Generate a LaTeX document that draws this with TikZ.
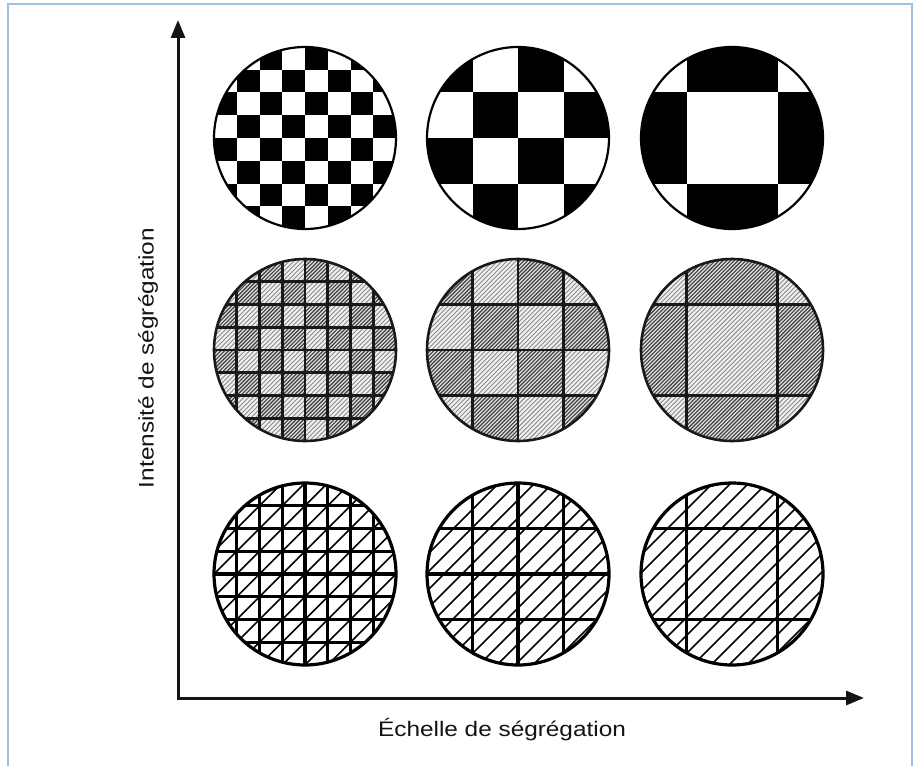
\documentclass[tikz,border=0pt]{standalone}
\usepackage{fontspec}
\setmainfont{Liberation Sans}
\usepackage{graphicx}
\usetikzlibrary{arrows.meta}
\definecolor{frameblue}{RGB}{160,190,228}
\definecolor{inkc}{RGB}{20,20,20}

\def\Rad{91}
\def\GridE{0/-1/-0.75,1/-0.75/-0.5,2/-0.5/-0.25,3/-0.25/0,4/0/0.25,5/0.25/0.5,6/0.5/0.75,7/0.75/1}
\def\GridF{0/-1/-0.5,1/-0.5/0,2/0/0.5,3/0.5/1}
\def\GridT{0/-1/-0.5,1/-0.5/0.5,2/0.5/1}
\def\LinesE{-0.75,-0.5,-0.25,0,0.25,0.5,0.75}
\def\LinesF{-0.5,0,0.5}
\def\LinesT{-0.5,0.5}

% hatch lines x+y=k across rectangle [#1,#3]x[#2,#4], step #5, style #6
\newcommand\hatchrect[6]{%
  \pgfmathsetmacro\hKa{(#1)+(#2)}%
  \pgfmathtruncatemacro\hN{((#3)+(#4)-(#1)-(#2))/(#5)+1}%
  \foreach \n in {0,...,\hN}{%
    \pgfmathsetmacro\hK{\hKa+\n*(#5)}%
    \draw[#6] ({\hK-(#4)},{#4}) -- ({\hK-(#2)},{#2});%
  }%
}

% top row: black and white
\newcommand\topcircle[4]{%
  \begin{scope}
    \clip (#1,#2) circle (\Rad pt);
    \foreach \i/\ia/\ib in #3 {
      \foreach \j/\ja/\jb in #3 {
        \pgfmathtruncatemacro\cellpar{mod(\i+\j+#4,2)}
        \ifnum\cellpar=0
          \fill[black] ({#1+(\ia)*\Rad},{#2+(\ja)*\Rad}) rectangle ({#1+(\ib)*\Rad},{#2+(\jb)*\Rad});
        \fi
      }}
  \end{scope}
  \draw[line width=2.2] (#1,#2) circle (\Rad pt);
}

% middle row: two hatch tones
\newcommand\midcircle[5]{%
  \begin{scope}
    \clip (#1,#2) circle (\Rad pt);
    \fill[black!6] (#1,#2) circle (\Rad pt);
    \hatchrect{#1-\Rad}{#2-\Rad}{#1+\Rad}{#2+\Rad}{4.55}{black!45,line width=0.9}
    \foreach \i/\ia/\ib in #3 {
      \foreach \j/\ja/\jb in #3 {
        \pgfmathtruncatemacro\cellpar{mod(\i+\j+#5,2)}
        \ifnum\cellpar=0
          \begin{scope}
            \clip ({#1+(\ia)*\Rad},{#2+(\ja)*\Rad}) rectangle ({#1+(\ib)*\Rad},{#2+(\jb)*\Rad});
            \fill[black!12] ({#1+(\ia)*\Rad},{#2+(\ja)*\Rad}) rectangle ({#1+(\ib)*\Rad},{#2+(\jb)*\Rad});
            \hatchrect{#1+(\ia)*\Rad}{#2+(\ja)*\Rad}{#1+(\ib)*\Rad}{#2+(\jb)*\Rad}{3.8}{black!75,line width=1.15}
          \end{scope}
        \fi
      }}
    \foreach \f in #4 {
      \draw[black!90,line width=2.6] ({#1+(\f)*\Rad},{#2-\Rad}) -- ({#1+(\f)*\Rad},{#2+\Rad});
      \draw[black!90,line width=2.6] ({#1-\Rad},{#2+(\f)*\Rad}) -- ({#1+\Rad},{#2+(\f)*\Rad});
    }
  \end{scope}
  \draw[black!90,line width=2.6] (#1,#2) circle (\Rad pt);
}

% bottom row: single sparse hatch
\newcommand\botcircle[4]{%
  \begin{scope}
    \clip (#1,#2) circle (\Rad pt);
    \hatchrect{#1-\Rad}{#2-\Rad}{#1+\Rad}{#2+\Rad}{#4}{black,line width=1.6}
    \foreach \f in #3 {
      \draw[black,line width=3.2] ({#1+(\f)*\Rad},{#2-\Rad}) -- ({#1+(\f)*\Rad},{#2+\Rad});
      \draw[black,line width=3.2] ({#1-\Rad},{#2+(\f)*\Rad}) -- ({#1+\Rad},{#2+(\f)*\Rad});
    }
  \end{scope}
  \draw[black,line width=3.2] (#1,#2) circle (\Rad pt);
}

\tikzset{
  axis/.style={line width=3, inkc, {Triangle[length=18pt,width=14pt]}-{Triangle[length=18pt,width=14pt]}},
  lab/.style={font=\fontsize{21}{25}\selectfont, text=inkc, inner sep=0pt}
}

\begin{document}
\begin{tikzpicture}[x=1pt,y=-1pt]
\useasboundingbox (0,0) rectangle (917,765);
\fill[white] (0,0) rectangle (917,765);
\draw[frameblue,line width=1.5] (8,766) -- (8,4) -- (912,4) -- (912,766);

% circles
\topcircle{305}{138}{\GridE}{0}
\topcircle{518}{138}{\GridF}{0}
\topcircle{732}{138}{\GridT}{1}
\midcircle{305}{350}{\GridE}{\LinesE}{0}
\midcircle{518}{350}{\GridF}{\LinesF}{0}
\midcircle{732}{350}{\GridT}{\LinesT}{1}
\botcircle{305}{574}{\LinesE}{22.75}
\botcircle{518}{574}{\LinesF}{18}
\botcircle{732}{574}{\LinesT}{18}

% axes
\coordinate (O) at (178,698);
\coordinate (Ytip) at (178,20);
\coordinate (Xtip) at (864,698);
\draw[axis] (Ytip) -- (O) -- (Xtip);

% labels
\node[lab, rotate=90] (ylab) at (148,358) {\scalebox{1.16}[1]{Intensité de ségrégation}};
\node[lab, anchor=base] (xlab) at (502,736) {\scalebox{1.16}[1]{Échelle de ségrégation}};
\end{tikzpicture}
\end{document}
